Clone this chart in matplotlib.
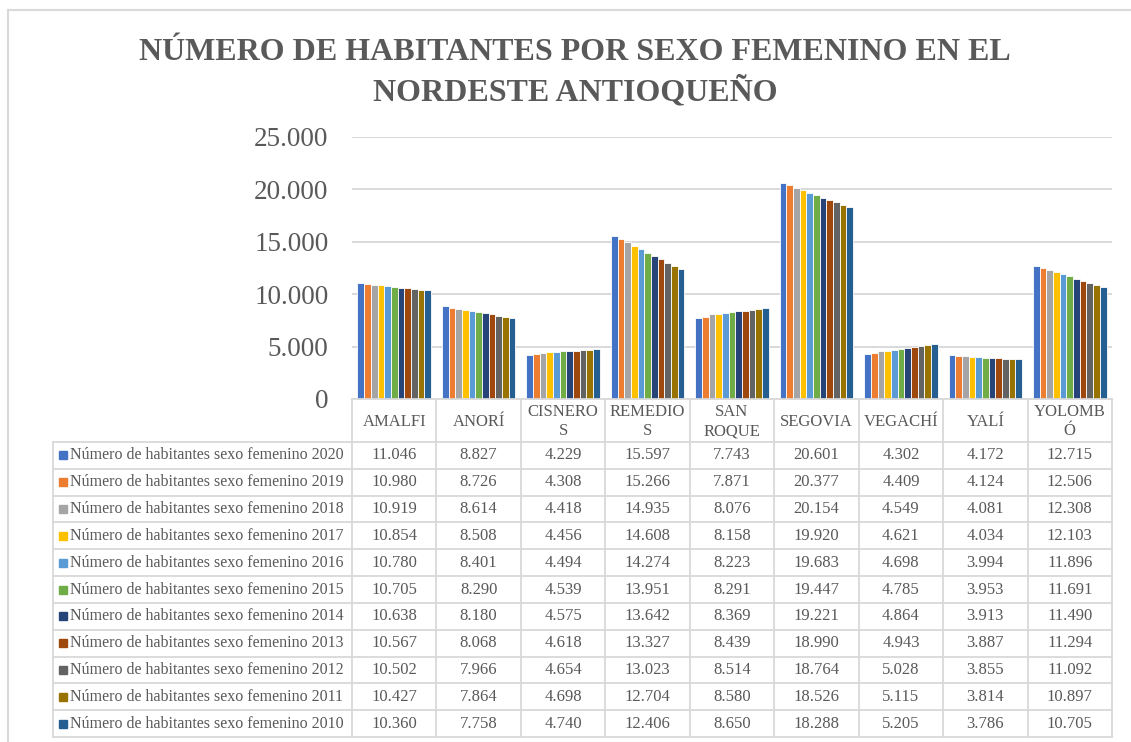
import matplotlib.pyplot as plt
from matplotlib.ticker import FuncFormatter
from matplotlib.patches import Rectangle

municipios = ["AMALFI", "ANORÍ", "CISNEROS", "REMEDIOS", "SAN ROQUE",
              "SEGOVIA", "VEGACHÍ", "YALÍ", "YOLOMBÓ"]
etiquetas = ["AMALFI", "ANORÍ", "CISNERO\nS", "REMEDIO\nS", "SAN\nROQUE",
             "SEGOVIA", "VEGACHÍ", "YALÍ", "YOLOMB\nÓ"]
anios = [2020, 2019, 2018, 2017, 2016, 2015, 2014, 2013, 2012, 2011, 2010]

v2020 = [11046, 8827, 4229, 15597, 7743, 20601, 4302, 4172, 12715]
v2019 = [10980, 8726, 4308, 15266, 7871, 20377, 4409, 4124, 12506]
v2018 = [10919, 8614, 4418, 14935, 8076, 20154, 4549, 4081, 12308]
v2017 = [10854, 8508, 4456, 14608, 8158, 19920, 4621, 4034, 12103]
v2016 = [10780, 8401, 4494, 14274, 8223, 19683, 4698, 3994, 11896]
v2015 = [10705, 8290, 4539, 13951, 8291, 19447, 4785, 3953, 11691]
v2014 = [10638, 8180, 4575, 13642, 8369, 19221, 4864, 3913, 11490]
v2013 = [10567, 8068, 4618, 13327, 8439, 18990, 4943, 3887, 11294]
v2012 = [10502, 7966, 4654, 13023, 8514, 18764, 5028, 3855, 11092]
v2011 = [10427, 7864, 4698, 12704, 8580, 18526, 5115, 3814, 10897]
v2010 = [10360, 7758, 4740, 12406, 8650, 18288, 5205, 3786, 10705]

series = [v2020, v2019, v2018, v2017, v2016, v2015, v2014, v2013, v2012, v2011, v2010]
colores = ["#4472C4", "#ED7D31", "#A5A5A5", "#FFC000", "#5B9BD5", "#70AD47",
           "#264478", "#9E480E", "#636363", "#997300", "#255E91"]

GRIS = "#595959"
LINEA = "#D9D9D9"
W, H = 1131, 742

plt.rcParams["font.family"] = "Liberation Serif"

fig = plt.figure(figsize=(W / 100, H / 100), dpi=100)

# pixel layout of the plot area
x0, x1 = 352, 1112
y_top, y_zero = 137, 399
ax = fig.add_axes([x0 / W, 1 - y_zero / H, (x1 - x0) / W, (y_zero - y_top) / H])

n = len(series)
ancho = 0.87 / n
for j, (vals, c) in enumerate(zip(series, colores)):
    xs = [i + (j - (n - 1) / 2) * ancho for i in range(len(municipios))]
    ax.bar(xs, vals, width=ancho, color=c, edgecolor="white", linewidth=0.6, zorder=3)

ax.set_xlim(-0.5, len(municipios) - 0.5)
ax.set_ylim(0, 25000)
ax.set_yticks(range(0, 25001, 5000))
ax.yaxis.set_major_formatter(FuncFormatter(lambda v, p: f"{int(v):,}".replace(",", ".")))
ax.tick_params(axis="y", length=0, labelsize=19.5, labelcolor=GRIS, pad=17)
ax.set_xticks([])
ax.grid(axis="y", color=LINEA, linewidth=1.4, zorder=0)
for s in ax.spines.values():
    s.set_visible(False)

# overlay in pixel coordinates for the border
ov = fig.add_axes([0, 0, 1, 1], zorder=-1)
ov.set_xlim(0, W)
ov.set_ylim(H, 0)
ov.axis("off")
ov.plot([8, 8], [10, H], color=LINEA, lw=1.5)
ov.plot([8, W], [10, 10], color=LINEA, lw=1.5)

fig.text(575 / W, 1 - 60 / H, "NÚMERO DE HABITANTES POR SEXO FEMENINO EN EL",
         ha="center", va="baseline", fontsize=23, fontweight="bold", color=GRIS,
         family="Liberation Serif")
fig.text(575 / W, 1 - 100 / H, "NORDESTE ANTIOQUEÑO",
         ha="center", va="baseline", fontsize=23, fontweight="bold", color=GRIS,
         family="Liberation Serif")

# data table
col_w = (x1 - x0) / len(municipios)
head_bot = 442
row_h = (737 - head_bot) / len(anios)
lab_x0 = 53

tb = fig.add_axes([0, 0, 1, 1])
tb.set_xlim(0, W)
tb.set_ylim(H, 0)
tb.axis("off")

for k in range(len(municipios) + 1):
    xx = x0 + k * col_w
    tb.plot([xx, xx], [y_zero, head_bot + len(anios) * row_h], color=LINEA, lw=1.3)
for k, et in enumerate(etiquetas):
    tb.text(x0 + (k + 0.5) * col_w, (y_zero + head_bot) / 2 + 1, et, ha="center", va="center",
            fontsize=12, color=GRIS, linespacing=1.25)

tb.plot([x0, x1], [y_zero, y_zero], color=LINEA, lw=1.3)
for r in range(len(anios) + 1):
    yy = head_bot + r * row_h
    tb.plot([lab_x0, x1], [yy, yy], color=LINEA, lw=1.3)
tb.plot([lab_x0, lab_x0], [head_bot, head_bot + len(anios) * row_h], color=LINEA, lw=1.3)

for r, (anio, vals, c) in enumerate(zip(anios, series, colores)):
    yc = head_bot + (r + 0.5) * row_h
    tb.add_patch(Rectangle((59, yc - 4), 8, 8, color=c))
    tb.text(70, yc, f"Número de habitantes sexo femenino {anio}", ha="left", va="center",
            fontsize=11.5, color=GRIS)
    for k, v in enumerate(vals):
        tb.text(x0 + (k + 0.5) * col_w, yc, f"{v:,}".replace(",", "."), ha="center",
                va="center", fontsize=12, color=GRIS)

fig.savefig("out.png", dpi=100, facecolor="white")
